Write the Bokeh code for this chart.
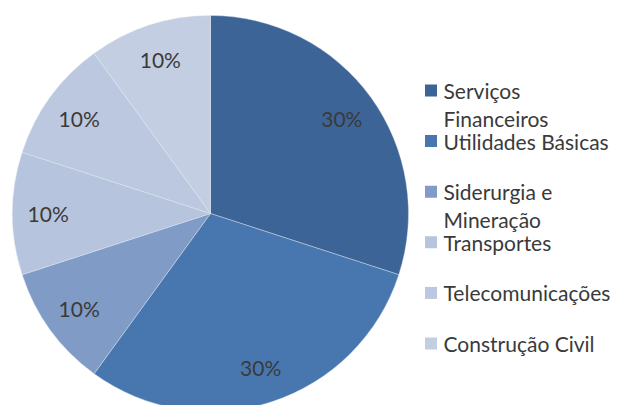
import math
import textwrap
from bokeh.plotting import figure
from bokeh.models import Range1d, ColumnDataSource
from bokeh.embed import file_html
from bokeh.resources import INLINE
from bokeh.core.properties import value

categories = ["Serviços Financeiros", "Utilidades Básicas", "Siderurgia e Mineração",
              "Transportes", "Telecomunicações", "Construção Civil"]
shares = [30, 30, 10, 10, 10, 10]
colors = ["#3D6496", "#4877B0", "#7F9BC6", "#B7C4DE", "#BCC7E0", "#C3CEE3"]

W, H = 617, 405
cx, cy, R = 210, H - 213, 198

total = sum(shares)
starts, ends, lx, ly, texts = [], [], [], [], []
cum = 0
for v in shares:
    a0 = math.pi / 2 - 2 * math.pi * cum / total
    a1 = math.pi / 2 - 2 * math.pi * (cum + v) / total
    starts.append(a0)
    ends.append(a1)
    mid = (a0 + a1) / 2
    lx.append(cx + 0.82 * R * math.cos(mid))
    ly.append(cy + 0.82 * R * math.sin(mid))
    texts.append(f"{round(100 * v / total)}%")
    cum += v

p = figure(width=W, height=H, output_backend="svg", toolbar_location=None,
           x_range=Range1d(0, W), y_range=Range1d(0, H), min_border=0)
p.axis.visible = False
p.grid.visible = False
p.outline_line_color = None
p.background_fill_color = "white"

src = ColumnDataSource(dict(x=[cx] * len(shares), y=[cy] * len(shares),
                            s=starts, e=ends, c=colors))
p.wedge(x="x", y="y", radius=R, start_angle="s", end_angle="e", direction="clock",
        fill_color="c", line_color="#E4EAF3", line_width=0.4, source=src)

p.text(x=lx, y=ly, text=texts, text_align="center", text_baseline="middle",
       text_font=value("Lato"), text_font_size="21px", text_color="#3A3A3A")

# legend
sq_x, sq_y, sq = 430.5, H - 90, 12
step = 50.6
lines_x, lines_y, lines_t = [], [], []
sqx, sqy = [], []
for i, name in enumerate(categories):
    yc = sq_y - i * step
    sqx.append(sq_x)
    sqy.append(yc)
    for j, ln in enumerate(textwrap.wrap(name, 18)):
        lines_x.append(443)
        lines_y.append(yc - j * 28)
        lines_t.append(ln)
p.rect(x=sqx, y=sqy, width=sq, height=sq, fill_color=colors, line_color=None)
p.text(x=lines_x, y=lines_y, text=lines_t, text_align="left", text_baseline="middle",
       text_font=value("Lato"), text_font_size="21px", text_color="#3A3A3A")

open("out.html", "w").write(file_html(p, INLINE))
